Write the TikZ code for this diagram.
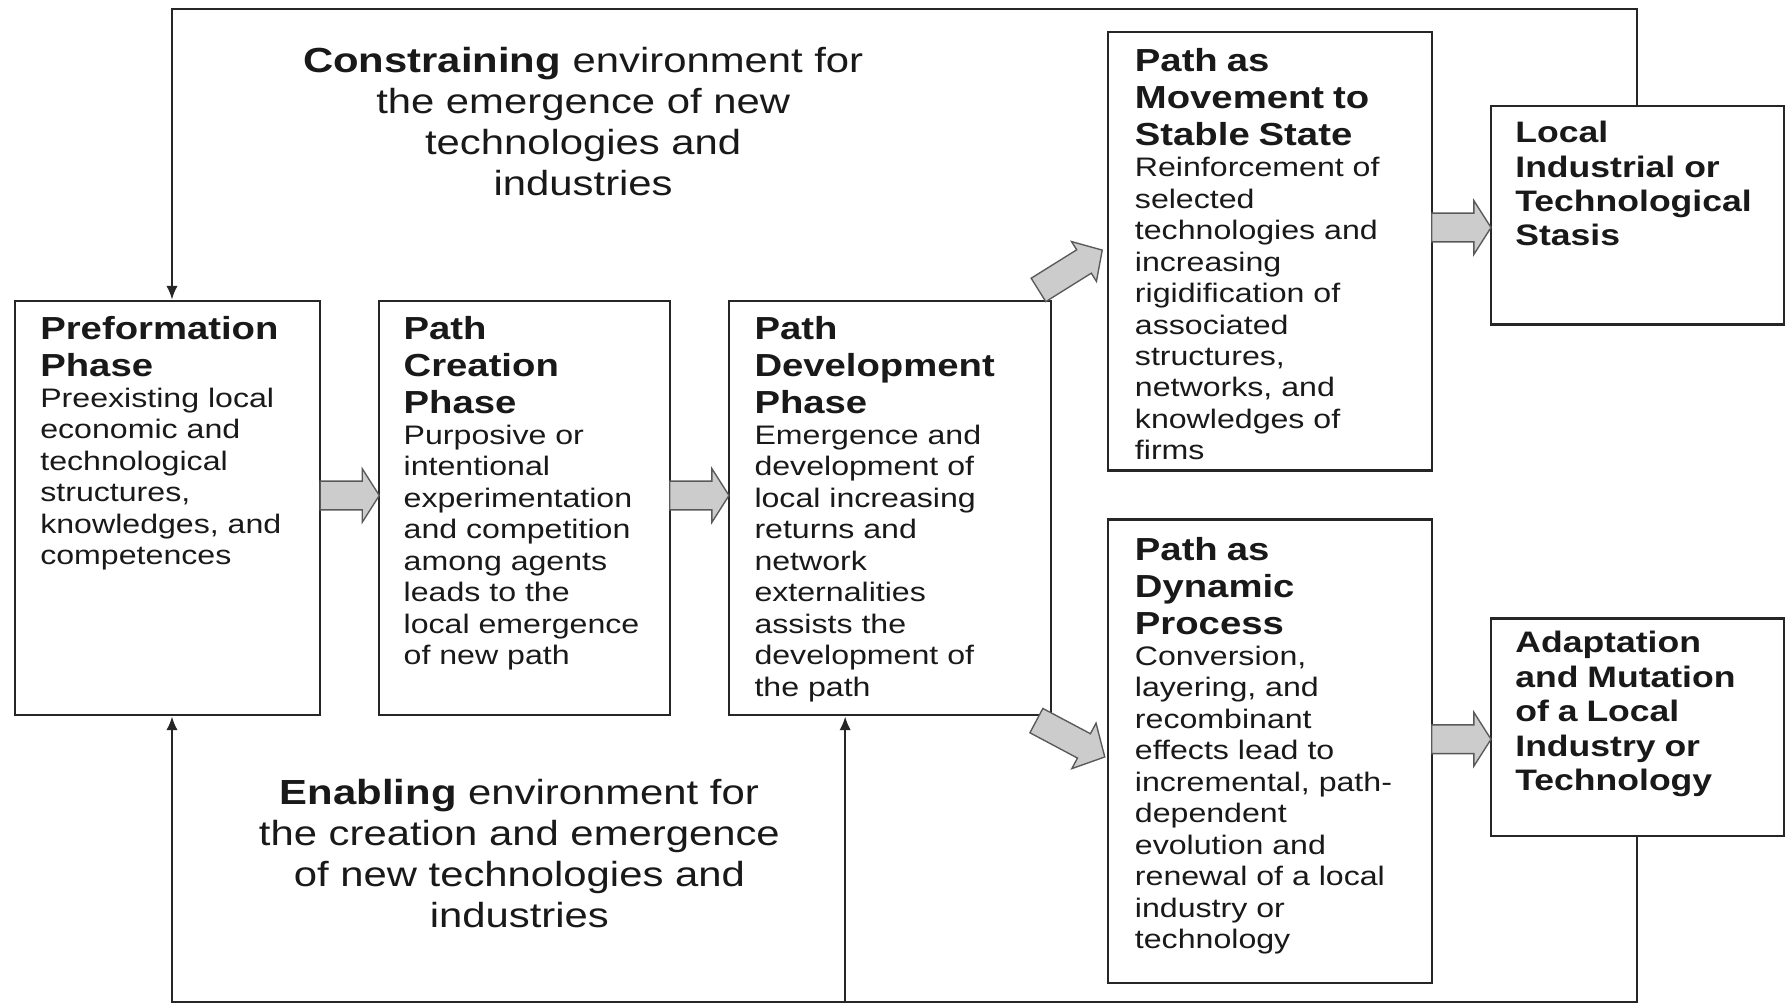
\documentclass[tikz,border=0pt]{standalone}
\usepackage{fontspec}
\setmainfont[FakeStretch=1.2]{Liberation Sans}
\usepackage{tikz}
\usetikzlibrary{shapes.arrows, arrows.meta, positioning, calc}
\tikzset{>={Latex[length=6pt,width=5pt]}}

\newcommand{\phasetitle}[1]{{\fontsize{14}{16.25}\selectfont\bfseries #1\par}}
\newcommand{\outcometitle}[1]{{\fontsize{13}{15.1}\selectfont\bfseries #1\par}}

\begin{document}
\begin{tikzpicture}[
  x=0.5pt, y=-0.5pt,
  box/.style={draw=black!85, line width=1pt, anchor=north west, inner sep=0pt},
  txt/.style={anchor=north west, inner sep=0pt, align=left, text width=#1,
    font=\fontsize{11.75}{13.8}\selectfont, text=black!90},
  envtxt/.style={align=center, inner sep=0pt, font=\fontsize{15.3}{18}\selectfont, text=black!90},
  conn/.style={draw=black!85, line width=0.9pt},
  flow/.style={single arrow, draw=black!65, fill=gray!40, line width=0.6pt,
    inner xsep=0pt, inner ysep=6pt, minimum height=26pt,
    single arrow head extend=5.5pt, single arrow tip angle=115}
]
  \useasboundingbox (0,0) rectangle (1568,882);

  % Phase boxes
  \node[box, minimum width=134pt, minimum height=182pt] (pre) at (12,263) {};
  \node[box, minimum width=127.5pt, minimum height=182pt, right=25pt of pre] (cre) {};
  \node[box, minimum width=141.5pt, minimum height=182pt, right=25pt of cre] (dev) {};

  % Path outcomes
  \node[box, minimum width=142pt, minimum height=192.5pt] (mov) at (972,27) {};
  \node[box, minimum width=142pt, minimum height=203.5pt] (dyn) at (972,455) {};
  \node[box, minimum width=128.5pt, minimum height=96pt] (sta) at (1308,92) {};
  \node[box, minimum width=128.5pt, minimum height=95.5pt] (ada) at (1308,542) {};

  % Box texts
  \node[txt=120pt] (pre-t) at ([xshift=11.5pt, yshift=-7pt]pre.north west)
    {\phasetitle{Preformation\\Phase}Preexisting local\\economic and\\technological\\structures,\\knowledges, and\\competences};
  \node[txt=114pt] (cre-t) at ([xshift=11pt, yshift=-7pt]cre.north west)
    {\phasetitle{Path\\Creation\\Phase}Purposive or\\intentional\\experimentation\\and competition\\among agents\\leads to the\\local emergence\\of new path};
  \node[txt=128pt] (dev-t) at ([xshift=11.5pt, yshift=-7pt]dev.north west)
    {\phasetitle{Path\\Development\\Phase}Emergence and\\development of\\local increasing\\returns and\\network\\externalities\\assists the\\development of\\the path};
  \node[txt=129pt] (mov-t) at ([xshift=12pt, yshift=-7.5pt]mov.north west)
    {\phasetitle{Path as\\Movement to\\Stable State}Reinforcement of\\selected\\technologies and\\increasing\\rigidification of\\associated\\structures,\\networks, and\\knowledges of\\firms};
  \node[txt=129pt] (dyn-t) at ([xshift=12pt, yshift=-8pt]dyn.north west)
    {\phasetitle{Path as\\Dynamic\\Process}Conversion,\\layering, and\\recombinant\\effects lead to\\incremental, path-\\dependent\\evolution and\\renewal of a local\\industry or\\technology};
  \node[txt=116pt] (sta-t) at ([xshift=11pt, yshift=-7pt]sta.north west)
    {\outcometitle{Local\\Industrial or\\Technological\\Stasis}};
  \node[txt=116pt] (ada-t) at ([xshift=11pt, yshift=-6pt]ada.north west)
    {\outcometitle{Adaptation\\and Mutation\\of a Local\\Industry or\\Technology}};

  % Environment texts
  \node[envtxt] (constr) at (512,107)
    {\textbf{Constraining} environment for\\the emergence of new\\technologies and\\industries};
  \node[envtxt] (enab) at (456,749)
    {\textbf{Enabling} environment for\\the creation and emergence\\of new technologies and\\industries};

  % ---- Feedback lines ----
  \coordinate (tl) at (151,8);
  \coordinate (bl) at (151,880);
  \coordinate (bm) at (742,880);
  \draw[conn, ->] (sta.north) |- (tl) -- (tl |- pre.north);
  \draw[conn, ->] (ada.south) |- (bl) -- (bl |- pre.south);
  \draw[conn, ->] (bm) -- (bm |- dev.south);

  % ---- Block arrows between phases ----
  \node[flow] (f1) at ($(pre.east)!0.5!(cre.west)+(-4,-11)$) {};
  \node[flow] (f2) at ($(cre.east)!0.5!(dev.west)+(-4,-11)$) {};
  \node[flow] (f3) at ($(mov.east)!0.5!(sta.west)+(-4,-5)$) {};
  \node[flow] (f4) at ($(dyn.east)!0.5!(ada.west)+(-4,0)$) {};
  \node[flow, minimum height=33pt, inner ysep=5.75pt, single arrow head extend=4.25pt,
    single arrow tip angle=95, rotate=32] (d1) at ($(dev.north east)+(11,-23)$) {};
  \node[flow, minimum height=34pt, inner ysep=5.75pt, single arrow head extend=5.25pt,
    single arrow tip angle=95, rotate=-28] (d2) at ($(dev.south east)+(11,17)$) {};
\end{tikzpicture}
\end{document}
